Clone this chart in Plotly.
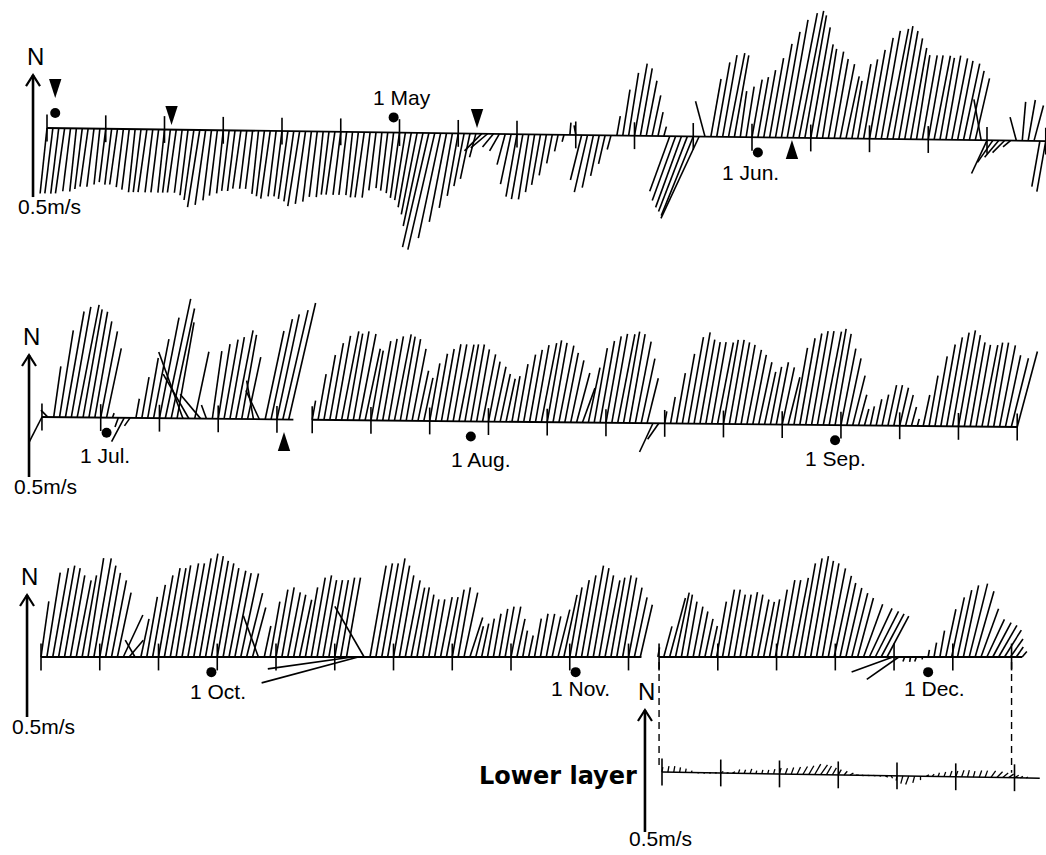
import math
import plotly.graph_objects as go

# ====================== DATA ======================
# Current-vector time series, one vector every half day.
# speed in cm/s, direction in degrees (toward which the current flows, clockwise from N)
STEP_DAYS = 0.5
PANEL_START_DAY = [91.5, 176.5, 259.5]          # day-of-year of first vector in each panel

SPEED_P1 = [27, 27, 27, 27, 26, 26, 25, 24, 24, 23,
            22, 23, 23, 24, 25, 26, 26, 26, 26, 26,
            26, 26, 26, 26, 27, 29, 32, 31, 29, 27,
            26, 25, 25, 24, 24, 24, 26, 27, 28, 27,
            27, 28, 29, 31, 30, 29, 27, 27, 26, 26,
            26, 26, 26, 27, 27, 27, 24, 23, 24, 25,
            27, 28, 31, 34, 39, 48, 49, 44, 37, 31,
            26, 22, 19, 10, 10, 9, 7, 8, 13, 21,
            26, 27, 27, 24, 21, 17, 12, 7, 3, 5,
            4, 19, 24, 22, 17, 12, 6, 8, 19, 26,
            30, 28, 23, 17, 10, 4, 24, 28, 31, 33,
            35, 37, 15, 24, 31, 34, 35, 34, 19, 21,
            24, 25, 28, 33, 39, 44, 49, 52, 53, 51,
            46, 39, 37, 36, 33, 31, 26, 24, 31, 33,
            37, 42, 45, 46, 47, 45, 42, 38, 35, 35,
            35, 35, 34, 35, 34, 33, 32, 29, 26, 17,
            15, 11, 9, 7, 4, 10, 16, 17, 15, 19,
            21]
DIR_P1 = [186, 187, 187, 188, 187, 186, 187, 188, 187, 186,
          187, 187, 188, 187, 187, 186, 187, 188, 187, 187,
          186, 187, 188, 187, 187, 188, 189, 188, 187, 187,
          186, 187, 187, 188, 187, 187, 186, 187, 188, 187,
          187, 188, 188, 189, 188, 187, 187, 186, 187, 188,
          187, 187, 186, 187, 188, 187, 187, 186, 187, 187,
          188, 189, 190, 191, 192, 193, 193, 192, 191, 190,
          190, 191, 192, 195, 225, 230, 220, 210, 195, 192,
          190, 190, 189, 189, 190, 190, 191, 192, 195, 5,
          350, 194, 193, 192, 192, 193, 195, 10, 9, 9,
          10, 10, 11, 12, 12, 15, 200, 200, 200, 201,
          202, 205, 345, 10, 10, 10, 11, 10, 8, 9,
          10, 10, 10, 10, 10, 10, 10, 11, 11, 10,
          10, 10, 9, 10, 10, 11, 12, 10, 10, 10,
          10, 10, 10, 11, 10, 10, 10, 10, 9, 10,
          10, 11, 10, 10, 11, 11, 12, 12, 13, 350,
          205, 215, 220, 225, 230, 345, 5, 10, 15, 190,
          190]

SPEED_P2 = [12, 4, 21, 36, 44, 46, 47, 45, 44, 40,
            36, 29, 2, 4, 11, 4, 8, 17, 25, 33,
            42, 50, 46, 40, 29, 21, 28, 13, 6, 28,
            31, 33, 34, 37, 35, 26, 16, 13, 37, 42,
            44, 46, 49, None, None, None, 8, 19, 27, 32,
            35, 37, 36, 37, 36, 30, 29, 33, 34, 35,
            36, 35, 34, 30, 21, 18, 24, 28, 30, 32,
            32, 32, 32, 32, 30, 28, 25, 23, 20, 18,
            19, 24, 28, 30, 32, 33, 34, 33, 32, 29,
            26, 21, 15, 23, 31, 34, 36, 37, 37, 38,
            37, 34, 27, 19, 13, 8, 5, 11, 21, 29,
            36, 38, 35, 34, 34, 34, 35, 35, 34, 33,
            31, 29, 26, 22, 24, 26, 24, 20, 32, 36,
            38, 39, 39, 39, 40, 38, 32, 28, 21, 13,
            7, 8, 11, 13, 17, 17, 16, 13, 8, 3,
            13, 21, 29, 34, 37, 39, 40, 38, 35, 34,
            34, 35, 35, 34, 30, 29, 32]
DIR_P2 = [207, 315, 8, 9, 10, 10, 11, 10, 10, 10,
          11, 12, 20, 200, 208, 215, 10, 10, 10, 11,
          11, 12, 12, 10, 340, 330, 12, 320, 340, 8,
          9, 10, 10, 11, 10, 12, 350, 335, 12, 12,
          12, 13, 13, None, None, None, 10, 10, 10, 10,
          10, 11, 10, 10, 11, 12, 10, 10, 10, 10,
          11, 10, 10, 11, 12, 12, 10, 10, 10, 10,
          10, 11, 10, 10, 10, 11, 11, 12, 12, 12,
          10, 10, 10, 10, 10, 11, 10, 10, 11, 11,
          12, 15, 20, 12, 10, 10, 10, 10, 11, 10,
          10, 11, 12, 14, 205, 215, 10, 10, 10, 10,
          10, 10, 10, 10, 10, 11, 10, 10, 10, 10,
          11, 11, 12, 12, 11, 11, 12, 14, 10, 10,
          10, 10, 10, 11, 10, 10, 11, 12, 14, 15,
          15, 12, 12, 12, 12, 12, 13, 14, 15, 15,
          12, 10, 10, 10, 10, 10, 10, 10, 10, 10,
          11, 10, 10, 11, 12, 14, 15]

SPEED_P3 = [23, 35, 37, 38, 37, 34, 32, 34, 41, 41,
            38, 35, 32, 27, 19, 9, 8, 16, 25, 30,
            34, 37, 37, 38, 39, 39, 41, 43, 42, 40,
            39, 37, 36, 35, 35, 27, 21, 18, 13, 23,
            28, 29, 27, 26, 24, 29, 33, 34, 32, 32,
            32, 33, 33, 35, 41, 24, 38, 39, 39, 41,
            38, 34, 32, 29, 29, 26, 24, 24, 25, 25,
            28, 29, 27, 17, 13, 14, 16, 18, 20, 21,
            21, 16, 11, 9, 16, 18, 18, 17, 20, 26,
            29, 32, 34, 38, 37, 34, 32, 33, 34, 33,
            29, 25, 22, None, None, 4, 13, 25, 27, 26,
            23, 21, 19, 16, 13, 23, 28, 28, 26, 26,
            27, 26, 24, 23, 24, 28, 32, 32, 33, 39,
            41, 42, 40, 39, 37, 34, 31, 29, 27, 25,
            23, 22, 21, 20, 19, 18, 16, 2, 2, 2,
            1, 3, 6, 11, 20, 25, 28, 30, 31, 28,
            21, 17, 16, 15, 13, 9, 5, 3]
DIR_P3 = [8, 9, 10, 10, 10, 10, 11, 10, 9, 10,
          10, 10, 11, 12, 25, 40, 330, 12, 10, 10,
          10, 10, 10, 9, 10, 10, 10, 10, 10, 10,
          10, 10, 11, 11, 12, 14, 15, 340, 12, 10,
          10, 10, 11, 11, 12, 10, 10, 10, 10, 10,
          10, 10, 10, 262, 255, 330, 10, 10, 10, 10,
          10, 10, 11, 11, 10, 10, 10, 10, 11, 11,
          10, 10, 12, 18, 14, 12, 10, 10, 10, 10,
          11, 12, 10, 12, 10, 10, 11, 12, 14, 12,
          10, 10, 10, 10, 10, 10, 11, 10, 10, 10,
          11, 12, 13, None, None, 10, 15, 15, 12, 10,
          10, 11, 11, 12, 12, 10, 10, 10, 10, 10,
          10, 10, 11, 11, 10, 10, 10, 10, 11, 10,
          10, 10, 10, 10, 11, 12, 12, 13, 14, 15,
          20, 25, 27, 28, 28, 250, 235, 200, 190, 200,
          180, 10, 10, 10, 12, 12, 12, 12, 14, 16,
          20, 25, 28, 30, 32, 35, 35, 40]

LOWER_START_DAY = 312.35
SPEED_LOWER = [2.0, 2.5, 2.5, 2.0, 1.6, 0.8, 0.8, 0.8, 0.8, 0.8,
               1.2, 0.8, 1.2, 1.6, 1.6, 2.0, 1.2, 1.6, 1.6, 2.0,
               2.5, 2.5, 2.9, 3.3, 3.7, 4.1, 4.9, 4.9, 4.1, 3.3,
               2.5, 2.0, 1.6, 1.2, 0.8, 0.8, 0.8, 0.8, 1.2, 1.2,
               2.0, 3.3, 3.7, 2.9, 1.6, 1.2, 1.2, 1.6, 2.0, 2.5,
               2.5, 2.9, 2.9, 2.5, 2.9, 2.9, 3.3, 3.3, 2.9, 2.5,
               2.0, 1.2, 0.8]
DIR_LOWER = [10, 10, 10, 10, 10, 20, 100, 100, 90, 90,
             60, 80, 60, 20, 20, 20, 15, 15, 15, 15,
             15, 20, 20, 25, 30, 30, 30, 35, 30, 30,
             30, 40, 60, 90, 100, 100, 100, 110, 120, 150,
             190, 195, 200, 195, 180, 60, 40, 20, 20, 20,
             20, 20, 15, 15, 20, 20, 35, 45, 50, 55,
             60, 60, 60]

PANEL_SEGMENTS = [[(91.5, 176.5)],
                  [(176.5, 197.9), (199.5, 259.5)],
                  [(259.5, 310.6), (312.1, 343.0)]]
LOWER_SEGMENT = (312.35, 344.5)
TICK_EVERY_DAYS = 5

MONTH_DAY = [121, 152, 182, 213, 244, 274, 305, 335]
MONTH_LABEL = ["1 May", "1 Jun.", "1 Jul.", "1 Aug.", "1 Sep.", "1 Oct.", "1 Nov.", "1 Dec."]
MONTH_PANEL = [0, 0, 1, 1, 1, 2, 2, 2]
RECORD_START_DAY = 92.2

EVENT_DAY = [92.2, 102.1, 128.1, 154.9, 197.1]
EVENT_PANEL = [0, 0, 0, 0, 1]
EVENT_POINTING = ["down", "down", "down", "up", "up"]

SCALE_SPEED = 0.5   # m/s, length of the reference arrows

# ====================== LAYOUT / STYLE ======================
W, H = 1046, 855
PX_PER_DAY = 11.75
PX_PER_MS = 244.0
DAYS_PER_MS = PX_PER_MS / PX_PER_DAY
PANEL_LEFT_DAY = [87.5, 172.93, 256.01]
PANEL_BASE_PX = [128, 417, 657]
PANEL_TILT = [-0.00063, -0.000493, 0.0]      # slight slope of the drawn baselines (m/s per day)
LOWER_BASE_PX = 772
LOWER_TILT = -0.000785
XAX = ["x", "x2", "x3"]
YAX = ["y", "y2", "y3"]
LOWER_X, LOWER_Y = "x3", "y4"

DOT_OFF = 0.062
MONTH_DOT_SIDE = [1, -1, -1, -1, -1, -1, -1, -1]
MONTH_LABEL_DX = [8, -7, -2, 10, 0, 7, 5, 6]
MONTH_LABEL_DY = [20, -20, -23, -23, -18, -19, -16, -16]
EVENT_OFF = [0.123, 0.019, 0.023, -0.009, -0.051]
ARROW_DAY = [90.31, 175.4, 258.31]
ARROW_TAIL = [-0.283, -0.246, -0.246]
LOWER_ARROW_DAY = 310.9
LOWER_ARROW_TAIL = -0.246
TICK_HALF = 0.055
FONT = "Liberation Sans"
STICK_W = 1.6

fig = go.Figure()


def base_y(tilt, tref, t):
    return tilt * (t - tref)


def stick_xy(start, speeds, dirs, tilt, tref):
    xs, ys = [], []
    for i, (s, d) in enumerate(zip(speeds, dirs)):
        if s is None or d is None:
            continue
        t = start + STEP_DAYS * i
        b = base_y(tilt, tref, t)
        u = s / 100.0 * math.sin(math.radians(d))
        v = s / 100.0 * math.cos(math.radians(d))
        xs += [t, t + u * DAYS_PER_MS, None]
        ys += [b, b + v, None]
    return xs, ys


def frame_xy(segments, tilt, tref):
    bx, by, tx, ty = [], [], [], []
    for a, e in segments:
        bx += [a, e, None]
        by += [base_y(tilt, tref, a), base_y(tilt, tref, e), None]
        t = a
        while t <= e + 1e-6:
            b = base_y(tilt, tref, t)
            tx += [t, t, None]
            ty += [b - TICK_HALF, b + TICK_HALF, None]
            t += TICK_EVERY_DAYS
    return bx, by, tx, ty


def add_scale_arrow(xa, ya, day, tail, label_dy=-9):
    tip = tail + SCALE_SPEED
    hw = 7.0 / PX_PER_DAY
    hh = 11.0 / PX_PER_MS
    fig.add_trace(go.Scatter(x=[day, day], y=[tail, tip], xaxis=xa, yaxis=ya, mode="lines",
                             line=dict(color="black", width=2.6), hoverinfo="skip"))
    fig.add_trace(go.Scatter(x=[day - hw, day, day + hw], y=[tip - hh, tip, tip - hh], xaxis=xa, yaxis=ya,
                             mode="lines", line=dict(color="black", width=2.2), hoverinfo="skip"))
    fig.add_annotation(x=day, y=tip, xref=xa, yref=ya, text="N", showarrow=False,
                       font=dict(size=24, family=FONT, color="black"), yanchor="bottom", xshift=2, yshift=3)
    fig.add_annotation(x=day, y=tail, xref=xa, yref=ya, text="0.5m/s", showarrow=False,
                       font=dict(size=21, family=FONT, color="black"), yanchor="middle", xshift=16,
                       yshift=label_dy)


panel_speeds = [SPEED_P1, SPEED_P2, SPEED_P3]
panel_dirs = [DIR_P1, DIR_P2, DIR_P3]

for p in range(3):
    xa, ya = XAX[p], YAX[p]
    tref = PANEL_START_DAY[p]
    tilt = PANEL_TILT[p]
    sx, sy = stick_xy(PANEL_START_DAY[p], panel_speeds[p], panel_dirs[p], tilt, tref)
    fig.add_trace(go.Scatter(x=sx, y=sy, xaxis=xa, yaxis=ya, mode="lines",
                             line=dict(color="black", width=STICK_W), hoverinfo="skip"))
    bx, by, tx, ty = frame_xy(PANEL_SEGMENTS[p], tilt, tref)
    fig.add_trace(go.Scatter(x=bx, y=by, xaxis=xa, yaxis=ya, mode="lines",
                             line=dict(color="black", width=1.8), hoverinfo="skip"))
    fig.add_trace(go.Scatter(x=tx, y=ty, xaxis=xa, yaxis=ya, mode="lines",
                             line=dict(color="black", width=1.6), hoverinfo="skip"))
    add_scale_arrow(xa, ya, ARROW_DAY[p], ARROW_TAIL[p])

# lower layer
lx, ly = stick_xy(LOWER_START_DAY, SPEED_LOWER, DIR_LOWER, LOWER_TILT, LOWER_START_DAY)
fig.add_trace(go.Scatter(x=lx, y=ly, xaxis=LOWER_X, yaxis=LOWER_Y, mode="lines",
                         line=dict(color="black", width=1.3), hoverinfo="skip"))
bx, by, tx, ty = frame_xy([LOWER_SEGMENT], LOWER_TILT, LOWER_START_DAY)
fig.add_trace(go.Scatter(x=bx, y=by, xaxis=LOWER_X, yaxis=LOWER_Y, mode="lines",
                         line=dict(color="black", width=1.5), hoverinfo="skip"))
fig.add_trace(go.Scatter(x=tx, y=ty, xaxis=LOWER_X, yaxis=LOWER_Y, mode="lines",
                         line=dict(color="black", width=1.6), hoverinfo="skip"))
add_scale_arrow(LOWER_X, LOWER_Y, LOWER_ARROW_DAY, LOWER_ARROW_TAIL, label_dy=-6)
fig.add_annotation(x=LOWER_ARROW_DAY, y=0, xref=LOWER_X, yref=LOWER_Y, text="<b>Lower layer</b>",
                   showarrow=False, xanchor="right", yanchor="middle", xshift=-6, yshift=-4,
                   font=dict(size=24, family="DejaVu Sans", color="black"))

# dashed connectors between the upper-panel segment and the lower layer
seg = PANEL_SEGMENTS[2][1]
top_y = (LOWER_BASE_PX - PANEL_BASE_PX[2] - 5) / PX_PER_MS
for d in (seg[0], seg[0] + 6 * TICK_EVERY_DAYS):
    fig.add_trace(go.Scatter(x=[d, d], y=[top_y, base_y(LOWER_TILT, LOWER_START_DAY, d) + 0.02],
                             xaxis=LOWER_X, yaxis=LOWER_Y, mode="lines",
                             line=dict(color="black", width=1.4, dash="7px,5px"), hoverinfo="skip"))

# month dots and labels
for i, day in enumerate(MONTH_DAY):
    p = MONTH_PANEL[i]
    y = base_y(PANEL_TILT[p], PANEL_START_DAY[p], day) + MONTH_DOT_SIDE[i] * DOT_OFF
    fig.add_trace(go.Scatter(x=[day], y=[y], xaxis=XAX[p], yaxis=YAX[p], mode="markers",
                             marker=dict(color="black", size=10), hoverinfo="skip"))
    fig.add_annotation(x=day, y=y, xref=XAX[p], yref=YAX[p], text=MONTH_LABEL[i], showarrow=False,
                       font=dict(size=21, family=FONT, color="black"),
                       xshift=MONTH_LABEL_DX[i], yshift=MONTH_LABEL_DY[i])

# record start dot
y0 = base_y(PANEL_TILT[0], PANEL_START_DAY[0], RECORD_START_DAY) + DOT_OFF
fig.add_trace(go.Scatter(x=[RECORD_START_DAY], y=[y0], xaxis="x", yaxis="y", mode="markers",
                         marker=dict(color="black", size=10), hoverinfo="skip"))

# event arrowheads
for i, day in enumerate(EVENT_DAY):
    p = EVENT_PANEL[i]
    y = base_y(PANEL_TILT[p], PANEL_START_DAY[p], day) + EVENT_OFF[i]
    ang = 180 if EVENT_POINTING[i] == "down" else 0
    fig.add_trace(go.Scatter(x=[day], y=[y], xaxis=XAX[p], yaxis=YAX[p], mode="markers",
                             marker=dict(symbol="arrow", angle=ang, size=20, color="black",
                                         line=dict(width=0)), hoverinfo="skip"))

# axes
span_days = W / PX_PER_DAY
layout_axes = {}
for p in range(3):
    key = "xaxis" if p == 0 else "xaxis%d" % (p + 1)
    d = dict(domain=[0, 1], range=[PANEL_LEFT_DAY[p], PANEL_LEFT_DAY[p] + span_days], visible=False,
             fixedrange=True, anchor=YAX[p])
    if p > 0:
        d["overlaying"] = "x"
    layout_axes[key] = d
bases = PANEL_BASE_PX + [LOWER_BASE_PX]
anchors = ["x", "x2", "x3", "x3"]
for k, b in enumerate(bases):
    key = "yaxis" if k == 0 else "yaxis%d" % (k + 1)
    d = dict(domain=[0, 1], range=[-(H - b) / PX_PER_MS, b / PX_PER_MS], visible=False,
             fixedrange=True, anchor=anchors[k])
    if k > 0:
        d["overlaying"] = "y"
    layout_axes[key] = d

fig.update_layout(width=W, height=H, margin=dict(l=0, r=0, t=0, b=0), showlegend=False,
                  paper_bgcolor="white", plot_bgcolor="white",
                  font=dict(family=FONT, color="black"), **layout_axes)

fig.write_html("out.html", config={"displayModeBar": False},
               post_script="document.body.style.margin='0px';document.body.style.overflow='hidden';")
